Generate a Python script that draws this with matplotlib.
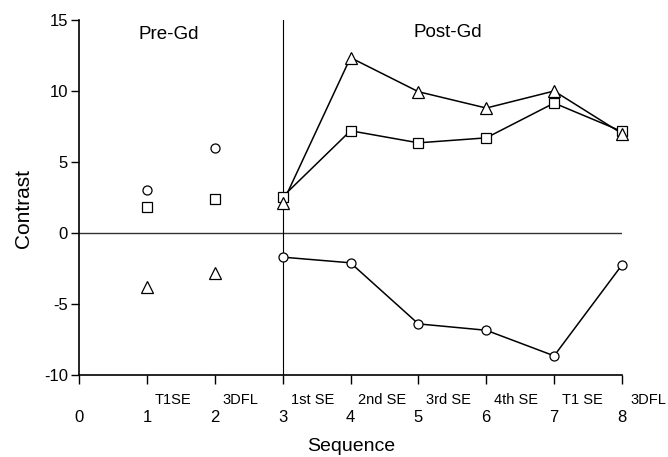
import matplotlib
matplotlib.use("Agg")
import matplotlib.pyplot as plt

seq_x = [1, 2, 3, 4, 5, 6, 7, 8]
seq_labels = ["T1SE", "3DFL", "1st SE", "2nd SE", "3rd SE", "4th SE", "T1 SE", "3DFL"]
circle_vals = [3.0, 6.0, -1.7, -2.1, -6.4, -6.85, -8.65, -2.25]
square_vals = [1.85, 2.4, 2.55, 7.2, 6.35, 6.7, 9.15, 7.15]
triangle_vals = [-3.8, -2.85, 2.1, 12.35, 9.95, 8.8, 10.0, 7.0]
gd_start = 3

plt.rcParams['font.family'] = ['Liberation Sans', 'DejaVu Sans']
W, H = 668, 457
fig = plt.figure(figsize=(W / 100, H / 100), dpi=100)
ax = fig.add_axes([79 / W, 1 - 375 / H, (622 - 79) / W, (375 - 20) / H])
ax.set_xlim(0, 8)
ax.set_ylim(-10, 15)

mk = dict(markerfacecolor='white', markeredgecolor='black', markeredgewidth=0.9,
          linestyle='none', zorder=4, clip_on=False)
line = dict(color='black', linewidth=1.1, zorder=3, clip_on=False)

for vals, m, ms in [(circle_vals, 'o', 6.5), (square_vals, 's', 6.5), (triangle_vals, '^', 8)]:
    post_x = [x for x in seq_x if x >= gd_start]
    post_y = [v for x, v in zip(seq_x, vals) if x >= gd_start]
    ax.plot(post_x, post_y, **line)
    ax.plot(seq_x, vals, marker=m, markersize=ms, **mk)

ax.axhline(0, color='#333333', linewidth=1.0, zorder=2)
ax.axvline(gd_start, color='black', linewidth=0.8, zorder=2)

for s in ['top', 'right']:
    ax.spines[s].set_visible(False)
for s in ['left', 'bottom']:
    ax.spines[s].set_linewidth(1.2)

ax.set_xticks(range(0, 9))
ax.set_xticklabels([str(i) for i in range(0, 9)])
ax.set_yticks([-10, -5, 0, 5, 10, 15])
ax.set_yticklabels(['-10', '-5', '0', '5', '10', '15'])
ax.tick_params(axis='x', direction='out', length=6.5, width=1, labelsize=12, pad=19)
ax.tick_params(axis='y', direction='out', length=6, width=1, labelsize=12, pad=2)

for x, lab in zip(seq_x, seq_labels):
    ax.annotate(lab, xy=(x, -10), xytext=(8, -18), textcoords='offset pixels',
                ha='left', va='top', fontsize=10.5, annotation_clip=False)

ax.text(1.32, 14.0, "Pre-Gd", ha='center', va='center', fontsize=13.5)
ax.text(5.43, 14.1, "Post-Gd", ha='center', va='center', fontsize=13.5)

fig.text(351 / W, 1 - 451 / H, "Sequence", ha='center', va='baseline', fontsize=14)
fig.text(24 / W, 1 - 208 / H, "Contrast", ha='center', va='center', rotation=90, fontsize=15)

fig.savefig("out.png", dpi=100)
